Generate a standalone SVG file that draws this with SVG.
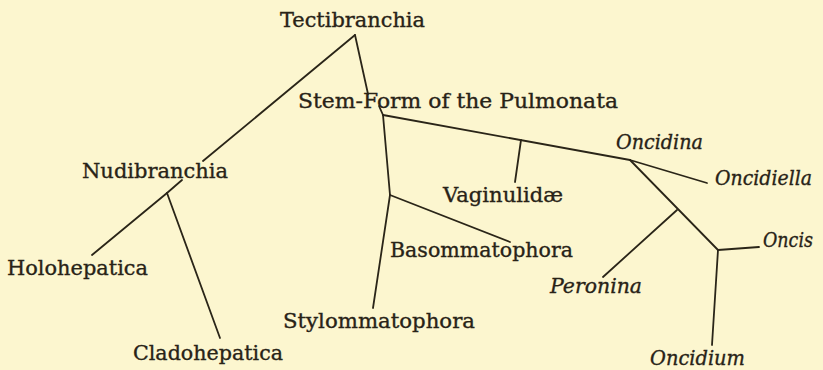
<svg xmlns="http://www.w3.org/2000/svg" width="823" height="370" viewBox="0 0 823 370">
<style>
.bg{fill:#fcf6cf}
.t{font-family:"DejaVu Serif","Liberation Serif",serif;font-size:21px;fill:#282317;stroke:#282317;stroke-width:0.35}
.i{font-style:italic}
.c line{stroke:#2a2518;stroke-width:1.8;stroke-linecap:round}
</style>
<rect class="bg" x="0" y="0" width="823" height="370"/>
<g class="c" id="connectors">
<line x1="355" y1="35" x2="203" y2="161"/>
<line x1="182" y1="180" x2="167" y2="193"/>
<line x1="355" y1="35" x2="368" y2="94"/>
<line x1="379" y1="106" x2="383" y2="115"/>
<line x1="167" y1="193" x2="92" y2="255"/>
<line x1="167" y1="193" x2="220" y2="338"/>
<line x1="383" y1="115" x2="630" y2="160"/>
<line x1="521" y1="140" x2="515" y2="182"/>
<line x1="383" y1="115" x2="390" y2="195"/>
<line x1="390" y1="195" x2="373" y2="308"/>
<line x1="390" y1="195" x2="510" y2="242"/>
<line x1="630" y1="160" x2="707" y2="183"/>
<line x1="630" y1="160" x2="718" y2="250"/>
<line x1="677" y1="210" x2="603" y2="277"/>
<line x1="718" y1="250" x2="759" y2="247"/>
<line x1="718" y1="250" x2="712" y2="345"/>
</g>
<g id="tectibranchia"><text class="t" x="280" y="27" textLength="145" lengthAdjust="spacingAndGlyphs">Tectibranchia</text></g>
<g id="stemform"><text class="t" x="298" y="108" textLength="320" lengthAdjust="spacingAndGlyphs">Stem-Form of the Pulmonata</text></g>
<g id="nudibranchia"><text class="t" x="82" y="178" textLength="146" lengthAdjust="spacingAndGlyphs">Nudibranchia</text></g>
<g id="holohepatica"><text class="t" x="7" y="275" textLength="141" lengthAdjust="spacingAndGlyphs">Holohepatica</text></g>
<g id="cladohepatica"><text class="t" x="133" y="360" textLength="150" lengthAdjust="spacingAndGlyphs">Cladohepatica</text></g>
<g id="stylommatophora"><text class="t" x="283" y="328" textLength="192" lengthAdjust="spacingAndGlyphs">Stylommatophora</text></g>
<g id="basommatophora"><text class="t" x="390" y="257" textLength="183" lengthAdjust="spacingAndGlyphs">Basommatophora</text></g>
<g id="vaginulidae"><text class="t" x="443" y="202" textLength="120" lengthAdjust="spacingAndGlyphs">Vaginulidæ</text></g>
<g id="oncidina"><text class="t i" x="616" y="149" textLength="87" lengthAdjust="spacingAndGlyphs">Oncidina</text></g>
<g id="oncidiella"><text class="t i" x="715" y="185" textLength="97" lengthAdjust="spacingAndGlyphs">Oncidiella</text></g>
<g id="oncis"><text class="t i" x="763" y="247" font-size="20" textLength="50" lengthAdjust="spacingAndGlyphs">Oncis</text></g>
<g id="peronina"><text class="t i" x="550" y="293" textLength="92" lengthAdjust="spacingAndGlyphs">Peronina</text></g>
<g id="oncidium"><text class="t i" x="650" y="365" textLength="95" lengthAdjust="spacingAndGlyphs">Oncidium</text></g>
</svg>
